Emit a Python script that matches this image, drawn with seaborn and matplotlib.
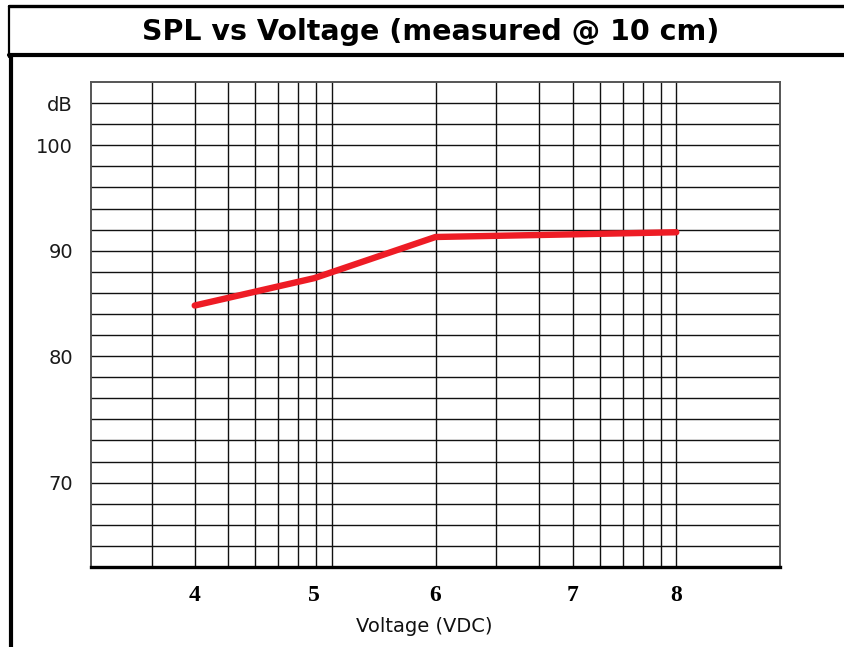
import numpy as np
import pandas as pd
import matplotlib
matplotlib.use("Agg")
import matplotlib.pyplot as plt
from matplotlib.lines import Line2D
from matplotlib.ticker import NullFormatter
import seaborn as sns

# Voltage axis printed on log graph paper: where each voltage label sits on the paper scale
volt_ticks = [4, 5, 6, 7, 8]
paper_pos = [4, 8.9, 20, 50, 100]

# Measured SPL (dB) at each voltage
voltage = [4, 5, 6, 7, 8]
spl_db = [84.8, 87.4, 91.3, 91.55, 91.75]

# y labels as printed on the sheet
y_tick_pos = [104, 100, 90, 80, 68]
y_tick_labels = ["dB", "100", "90", "80", "70"]

# graph paper rulings
paper_vlines = [3, 4, 5, 6, 7, 8, 9, 10, 20, 30, 40, 50, 60, 70, 80, 90, 100]
paper_hlines = list(range(62, 106, 2))


def main():
    sns.set_style("white")
    plt.rcParams["font.family"] = ["DejaVu Sans"]

    # map voltages onto the paper's log scale
    x_paper = 10 ** np.interp(voltage, volt_ticks, np.log10(paper_pos))
    df = pd.DataFrame({"x": x_paper, "spl": spl_db})

    fig = plt.figure(figsize=(8.44, 6.47), dpi=100)
    ax = fig.add_axes([91 / 844, 1 - 567 / 647, 689 / 844, 485 / 647])

    ax.set_xscale("log")
    ax.set_xlim(2, 200)
    ax.set_ylim(60, 106)

    # grid from minor ticks
    ax.set_xticks(paper_vlines, minor=True)
    ax.set_yticks(paper_hlines, minor=True)
    ax.xaxis.set_minor_formatter(NullFormatter())
    ax.yaxis.set_minor_formatter(NullFormatter())
    ax.xaxis.remove_overlapping_locs = False
    ax.yaxis.remove_overlapping_locs = False
    ax.grid(False, which="major")
    ax.grid(True, which="minor", color="#111111", linewidth=1.0)

    sns.lineplot(data=df, x="x", y="spl", ax=ax, color="#ee1c25",
                 linewidth=4.6, solid_capstyle="round", zorder=5)

    ax.set_xticks(paper_pos)
    ax.set_xticklabels([str(v) for v in volt_ticks],
                       fontdict={"family": "Liberation Serif", "weight": "bold",
                                 "size": 17, "color": "black"})
    ax.set_yticks(y_tick_pos)
    ax.set_yticklabels(y_tick_labels, fontsize=14, color="#1a1a1a")
    ax.tick_params(axis="both", which="both", length=0)
    ax.tick_params(axis="x", pad=13)
    ax.tick_params(axis="y", pad=13)
    ax.set_xlabel("")
    ax.set_ylabel("")

    for side in ["left", "top", "right"]:
        ax.spines[side].set_color("#555555")
        ax.spines[side].set_linewidth(1.4)
    ax.spines["bottom"].set_color("black")
    ax.spines["bottom"].set_linewidth(2.4)

    fig.text(424 / 844, 1 - 627 / 647, "Voltage (VDC)", ha="center", va="center",
             fontsize=14, color="#111111")

    # title box
    fig.add_artist(Line2D([9 / 844, 1], [1 - 6 / 647, 1 - 6 / 647], color="black", lw=2.4))
    fig.add_artist(Line2D([9 / 844, 1], [1 - 55 / 647, 1 - 55 / 647], color="black", lw=3.0))
    fig.add_artist(Line2D([9 / 844, 9 / 844], [1 - 6 / 647, 1 - 57 / 647], color="black", lw=1.6))
    fig.add_artist(Line2D([10.5 / 844, 10.5 / 844], [1 - 55 / 647, 0], color="black", lw=3.0))
    fig.text(431 / 844, 1 - 32 / 647, "SPL vs Voltage (measured @ 10 cm)", ha="center",
             va="center", fontsize=20.5, fontweight="bold", color="black")

    fig.savefig("out.png", dpi=100)


if __name__ == "__main__":
    main()
